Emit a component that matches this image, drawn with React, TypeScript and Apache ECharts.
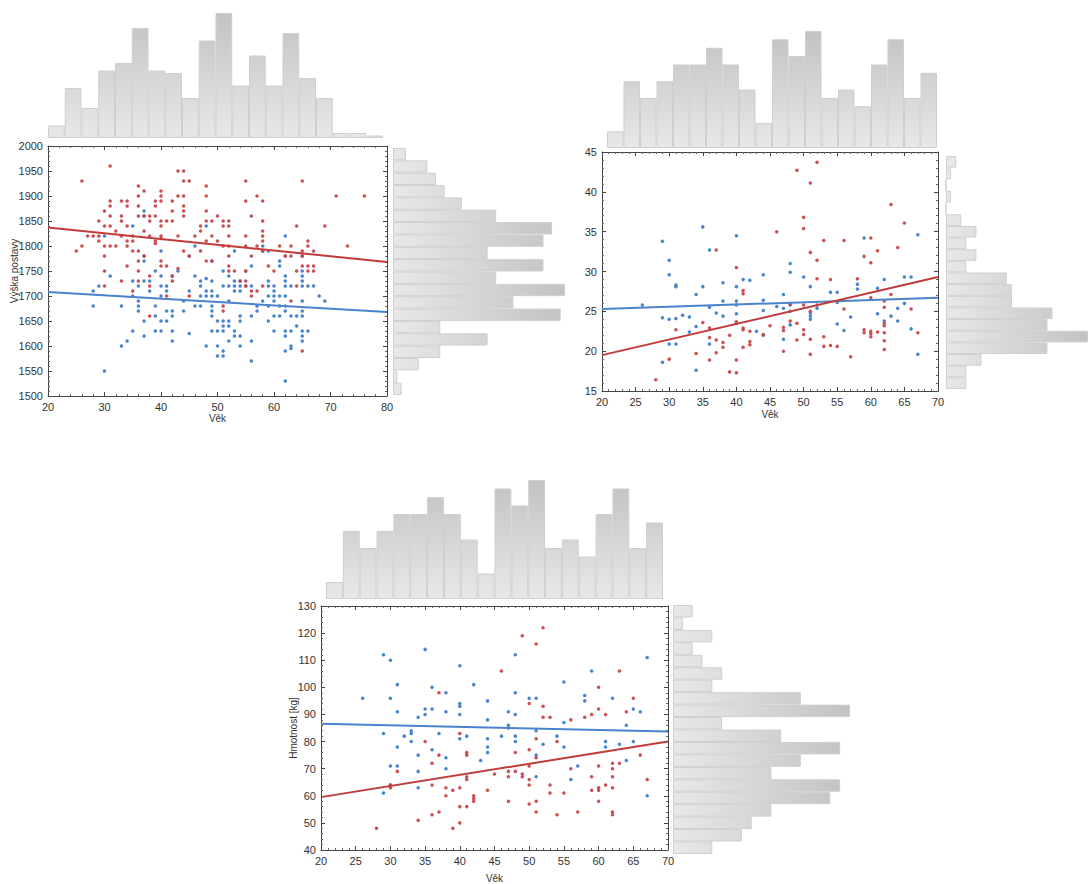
import React, { useEffect, useRef } from "react";
import * as echarts from "echarts";

// ---------- Panel 1: age vs body height ----------
const ageBinsWide = [5, 20, 12, 27, 30, 44, 27, 26, 16, 39, 50, 21, 33, 21, 42, 24, 16, 2, 2, 1];
const heightBins = [3, 8, 10, 12, 16, 24, 37, 35, 22, 35, 24, 40, 28, 39, 11, 22, 11, 6, 1, 2];

const heightRed: number[][] = [
  [25,1790],[26,1930],[26,1800],[27,1820],[28,1820],[29,1850],[29,1820],[29,1810],
  [30,1870],[30,1840],[30,1800],[30,1780],[30,1750],[30,1720],
  [31,1960],[31,1890],[31,1880],[31,1860],[31,1840],[31,1800],
  [32,1830],[32,1800],
  [33,1890],[33,1860],[33,1850],[33,1820],[33,1730],
  [34,1890],[34,1880],[34,1840],[34,1810],[34,1800],[34,1760],
  [35,1820],[35,1810],[35,1790],[35,1710],
  [36,1920],[36,1900],[36,1880],[36,1860],[36,1790],[36,1770],[36,1750],[36,1730],
  [37,1910],[37,1860],[37,1830],[37,1780],
  [38,1860],[38,1850],[38,1820],[38,1740],[38,1720],[38,1660],
  [39,1890],[39,1880],[39,1860],[39,1810],[39,1805],
  [40,1910],[40,1900],[40,1890],[40,1850],[40,1840],[40,1820],[40,1815],[40,1770],[40,1760],
  [41,1850],[41,1760],[41,1700],
  [42,1890],[42,1870],[42,1850],[42,1740],[42,1730],
  [43,1950],[43,1900],[43,1820],[43,1755],
  [44,1950],[44,1930],[44,1900],[44,1880],[44,1870],[44,1860],[44,1790],
  [45,1930],[45,1780],[45,1700],
  [46,1820],
  [47,1840],[47,1830],[47,1790],
  [48,1920],[48,1900],[48,1870],[48,1850],[48,1810],[48,1770],
  [49,1850],[49,1820],[49,1770],
  [50,1860],[50,1810],
  [51,1850],[51,1840],[51,1800],[51,1680],[51,1670],
  [52,1850],[52,1840],[52,1820],[52,1800],[52,1780],[52,1760],[52,1750],
  [53,1750],[54,1730],
  [55,1930],[55,1890],[55,1820],[55,1800],[55,1750],[55,1730],[55,1720],
  [56,1860],[56,1780],[56,1710],[56,1700],
  [57,1900],[57,1800],[57,1710],
  [58,1890],[58,1850],[58,1830],[58,1820],[58,1810],[58,1790],[58,1720],
  [59,1760],[60,1750],[61,1800],[62,1780],
  [63,1800],[63,1780],[63,1690],
  [64,1840],[64,1750],[64,1720],
  [65,1930],[65,1790],[65,1780],[65,1760],[65,1590],
  [66,1810],[66,1800],[66,1760],[66,1750],
  [67,1790],[67,1760],[67,1750],
  [69,1840],[71,1900],[73,1800],[76,1900],
];

const heightBlue: number[][] = [
  [28,1710],[28,1680],[29,1720],[30,1820],[30,1550],[31,1740],
  [33,1680],[33,1600],[34,1610],
  [35,1840],[35,1730],[35,1700],[35,1630],
  [36,1720],[36,1690],[36,1680],[36,1670],
  [37,1870],[37,1860],[37,1780],[37,1770],[37,1730],[37,1650],[37,1620],
  [38,1730],[38,1710],
  [39,1750],[39,1680],[39,1660],[39,1630],
  [40,1790],[40,1740],[40,1720],[40,1700],[40,1650],[40,1630],
  [41,1720],[41,1710],[41,1670],[41,1650],
  [42,1740],[42,1670],[42,1660],[42,1630],[42,1610],
  [43,1750],[44,1690],[44,1670],
  [45,1780],[45,1710],[45,1625],
  [46,1800],[46,1740],[46,1680],
  [47,1730],[47,1720],[47,1700],[47,1680],
  [48,1840],[48,1735],[48,1710],[48,1700],[48,1600],
  [49,1770],[49,1730],[49,1710],[49,1700],[49,1680],[49,1670],[49,1660],[49,1630],
  [50,1700],[50,1650],[50,1630],[50,1600],[50,1580],
  [51,1750],[51,1720],[51,1650],[51,1640],[51,1630],[51,1590],[51,1580],
  [52,1740],[52,1720],[52,1690],[52,1650],[52,1640],[52,1610],
  [53,1790],[53,1730],[53,1720],[53,1710],[53,1630],[53,1620],
  [54,1730],[54,1720],[54,1710],[54,1660],[54,1650],[54,1620],[54,1600],
  [55,1750],[55,1720],
  [56,1760],[56,1720],[56,1660],[56,1610],[56,1570],
  [57,1680],[57,1670],
  [58,1800],[58,1790],[58,1690],
  [59,1790],[59,1730],[59,1720],[59,1700],[59,1680],[59,1650],
  [60,1720],[60,1710],[60,1700],[60,1690],[60,1660],[60,1630],
  [61,1770],[61,1760],[61,1700],[61,1680],[61,1660],
  [62,1820],[62,1780],[62,1740],[62,1730],[62,1720],[62,1700],[62,1680],[62,1670],[62,1630],[62,1620],[62,1590],[62,1530],
  [63,1720],[63,1660],[63,1630],[63,1600],[63,1595],
  [64,1660],[64,1640],
  [65,1780],[65,1750],[65,1740],[65,1730],[65,1720],[65,1690],[65,1670],[65,1660],[65,1630],[65,1620],[65,1610],
  [66,1720],[66,1630],[67,1720],[68,1700],[69,1690],
];

const heightRedFit = [[20, 1837], [80, 1768]];
const heightBlueFit = [[20, 1708], [80, 1668]];

// ---------- Panel 2: age vs BMI ----------
const ageBins = [2, 8, 6, 8, 10, 10, 12, 10, 7, 3, 13, 11, 14, 6, 7, 5, 10, 13, 6, 9];
const bmiBins = [2, 1, 0, 1, 0, 3, 6, 4, 6, 4, 12, 13, 13, 21, 20, 28, 20, 7, 4, 4];

const bmiBlue: number[][] = [
  [26,25.8],[29,33.8],[29,24.2],[29,18.6],[30,31.4],[30,29.6],[30,24.0],[30,20.9],
  [31,28.3],[31,28.1],[31,24.1],[31,20.9],[32,24.5],[33,24.3],[33,22.4],
  [34,27.1],[34,23.1],[34,17.6],[35,35.6],[35,28.1],[36,32.7],[36,25.5],[36,20.9],
  [37,24.8],[38,28.6],[38,26.3],[38,24.4],[40,34.5],[40,28.1],[40,26.3],[40,25.8],[40,24.7],
  [41,29.0],[42,28.9],[43,22.5],[44,29.6],[44,26.4],[44,25.1],[44,22.0],[46,25.6],
  [47,27.1],[47,25.4],[47,21.5],[48,31.0],[48,29.9],[48,25.8],[48,25.0],[48,23.3],
  [50,29.3],[51,28.1],[51,24.8],[51,24.4],[51,24.0],[52,25.4],[54,27.4],[55,27.4],
  [55,26.1],[55,23.4],[56,22.6],[57,24.3],[58,28.4],[58,27.8],[59,34.2],[61,27.9],
  [61,24.7],[62,29.0],[62,23.8],[63,24.4],[64,25.4],[64,23.8],[65,29.3],[65,26.0],
  [66,29.3],[66,22.8],[67,34.6],[67,19.6],
];

const bmiRed: number[][] = [
  [28,16.4],[30,19.0],[31,22.7],[34,19.7],[35,23.6],[36,22.9],[36,21.7],[36,18.9],
  [37,32.7],[37,21.4],[37,19.8],[38,21.1],[38,20.5],[39,22.0],[39,17.4],
  [40,30.5],[40,23.7],[40,23.5],[40,18.9],[40,17.3],[41,27.6],[41,27.2],[41,22.9],[41,22.7],[41,20.5],
  [42,22.5],[42,21.2],[42,20.8],[44,22.1],[45,23.2],[46,35.0],[47,23.0],[47,22.6],[47,20.0],
  [48,25.9],[48,23.8],[49,42.7],[49,23.5],[49,21.4],
  [50,36.8],[50,35.4],[50,25.8],[50,22.7],[50,22.1],
  [51,41.1],[51,32.4],[51,25.0],[51,21.5],[51,19.6],
  [52,43.7],[52,31.4],[52,29.1],[52,25.8],[53,33.9],[53,21.8],[53,20.6],
  [54,29.0],[54,20.7],[55,20.6],[56,33.9],[56,25.3],[57,19.3],[58,29.1],
  [59,31.9],[59,22.7],[59,22.3],[60,34.2],[60,31.1],[60,26.7],[60,22.5],[60,22.2],[60,21.8],
  [61,32.6],[61,22.4],[62,26.3],[62,25.5],[62,23.5],[62,23.2],[62,22.3],[62,21.3],[62,20.2],
  [63,38.4],[63,27.1],[64,33.0],[65,36.1],[66,25.3],[67,22.3],
];

const bmiRedFit = [[20, 19.5], [70, 29.3]];
const bmiBlueFit = [[20, 25.3], [70, 26.7]];

// ---------- Panel 3: age vs body weight ----------
const weightBins = [2, 1, 4, 2, 3, 5, 4, 13, 18, 5, 11, 17, 13, 10, 17, 16, 10, 8, 7, 4];

const weightBlue: number[][] = [
  [26,96],[29,112],[29,83],[29,61],[30,110],[30,96],[30,71],[30,64],
  [31,101],[31,91],[31,78],[31,71],[32,82],[33,84],[33,83],[33,80],
  [34,89],[34,75],[34,69],[34,63],[35,114],[35,92],[35,90],
  [36,100],[36,92],[36,77],[37,83],[38,98],[38,91],[38,74],[38,70],
  [40,108],[40,94],[40,93],[40,90],[40,81],[41,82],[42,101],[43,73],
  [44,95],[44,88],[44,81],[44,78],[44,76],[46,82],[47,91],[47,86],[47,85],
  [48,112],[48,98],[48,90],[48,82],[48,80],[50,96],[51,96],[51,84],[51,75],[51,67],
  [52,79],[54,82],[55,102],[55,87],[55,78],[56,66],[57,71],[58,97],[58,95],
  [59,106],[61,80],[61,78],[62,96],[63,79],[64,86],[64,73],[65,92],[65,80],
  [66,91],[67,111],[67,60],
];

const weightRed: number[][] = [
  [28,48],[30,64],[30,63],[31,69],[34,51],[35,80],[36,72],[36,64],[36,53],
  [37,98],[37,75],[37,54],[38,63],[38,60],[39,62],[39,48],
  [40,83],[40,63],[40,56],[40,50],[41,76],[41,75],[41,67],[41,66],[41,56],
  [42,60],[42,59],[42,58],[44,62],[45,68],[46,106],[47,69],[47,67],[47,58],
  [48,76],[48,69],[49,119],[49,68],[49,67],
  [50,94],[50,77],[50,71],[50,66],[50,64],[50,57],
  [51,116],[51,81],[51,74],[51,58],[51,54],[52,122],[52,93],[52,89],
  [53,89],[53,64],[53,61],[54,80],[54,53],[55,61],[56,88],[56,70],[57,54],
  [58,89],[59,90],[59,67],[59,62],[60,100],[60,92],[60,71],[60,63],[60,62],[60,58],
  [61,90],[61,64],[62,72],[62,70],[62,67],[62,63],[62,54],[62,53],
  [63,106],[63,72],[64,91],[65,96],[66,75],[67,66],
];

const weightRedFit = [[20, 59.5], [70, 80.0]];
const weightBlueFit = [[20, 86.6], [70, 83.7]];

// ---------- styling ----------
const RED = "#c9474a";
const BLUE = "#3f7dcc";
const RED_LINE = "#c23b3b";
const BLUE_LINE = "#4a82cc";
const FONT = "Liberation Sans, Arial, sans-serif";
const AXIS_COLOR = "#444";

type Box = { left: number; top: number; width: number; height: number };

function buildOption() {
  const grids: any[] = [];
  const xAxes: any[] = [];
  const yAxes: any[] = [];
  const series: any[] = [];

  const baseAxis = (extra: any) => ({
    type: "value",
    axisLine: { show: true, onZero: false, lineStyle: { color: AXIS_COLOR, width: 1 } },
    axisTick: { show: true, inside: true, length: 4, lineStyle: { color: AXIS_COLOR } },
    minorTick: { show: true, splitNumber: 5, length: 2, lineStyle: { color: "#666" } },
    splitLine: { show: false },
    axisLabel: {
      color: "#333", fontSize: 11, fontFamily: FONT, margin: 5,
      formatter: (v: number) => String(v),
    },
    nameTextStyle: { color: "#333", fontSize: 10, fontFamily: FONT },
    nameMoveOverlap: false,
    ...extra,
  });

  function scatterPanel(
    box: Box,
    xr: [number, number, number],
    yr: [number, number, number],
    xName: string,
    xGap: number,
    yName: string,
    yGap: number,
    red: number[][],
    blue: number[][],
    redFit: number[][],
    blueFit: number[][]
  ) {
    const g = grids.length;
    grids.push({ ...box, containLabel: false });
    const xi = xAxes.length;
    xAxes.push(
      baseAxis({
        gridIndex: g, min: xr[0], max: xr[1], interval: xr[2], position: "bottom",
        name: xName, nameLocation: "middle", nameGap: xGap,
      })
    );
    xAxes.push(
      baseAxis({
        gridIndex: g, min: xr[0], max: xr[1], interval: xr[2], position: "top",
        axisLabel: { show: false },
      })
    );
    const yi = yAxes.length;
    yAxes.push(
      baseAxis({
        gridIndex: g, min: yr[0], max: yr[1], interval: yr[2], position: "left",
        name: yName, nameLocation: "middle", nameGap: yGap,
      })
    );
    yAxes.push(
      baseAxis({
        gridIndex: g, min: yr[0], max: yr[1], interval: yr[2], position: "right",
        axisLabel: { show: false },
      })
    );
    const common = { xAxisIndex: xi, yAxisIndex: yi };
    series.push({
      type: "scatter", name: "modrá", data: blue, symbol: "circle", symbolSize: 3.5,
      itemStyle: { color: BLUE, opacity: 0.95 }, ...common, z: 3,
    });
    series.push({
      type: "scatter", name: "červená", data: red, symbol: "circle", symbolSize: 3.5,
      itemStyle: { color: RED, opacity: 0.95 }, ...common, z: 3,
    });
    series.push({
      type: "line", data: blueFit, showSymbol: false, symbol: "none",
      lineStyle: { color: BLUE_LINE, width: 2 }, ...common, z: 4,
    });
    series.push({
      type: "line", data: redFit, showSymbol: false, symbol: "none",
      lineStyle: { color: RED_LINE, width: 2 }, ...common, z: 4,
    });
  }

  function topHist(box: Box, counts: number[], max: number) {
    const g = grids.length;
    grids.push({ ...box });
    const xi = xAxes.length;
    xAxes.push({
      gridIndex: g, type: "category", data: counts.map((_, i) => String(i + 1)),
      show: false, boundaryGap: true,
    });
    const yi = yAxes.length;
    yAxes.push({ gridIndex: g, type: "value", min: 0, max, show: false, splitLine: { show: false } });
    series.push({
      type: "bar", data: counts, xAxisIndex: xi, yAxisIndex: yi, barCategoryGap: "0%",
      itemStyle: {
        color: new echarts.graphic.LinearGradient(
          0, box.top, 0, box.top + box.height,
          [{ offset: 0, color: "#c2c2c2" }, { offset: 1, color: "#e8e8e8" }],
          true
        ),
        borderColor: "#cfcfcf",
        borderWidth: 1,
      },
      silent: true,
    });
  }

  function rightHist(box: Box, counts: number[], max: number) {
    const g = grids.length;
    grids.push({ ...box });
    const xi = xAxes.length;
    xAxes.push({ gridIndex: g, type: "value", min: 0, max, show: false, splitLine: { show: false } });
    const yi = yAxes.length;
    yAxes.push({
      gridIndex: g, type: "category", data: counts.map((_, i) => String(i + 1)),
      show: false, inverse: true, boundaryGap: true,
    });
    series.push({
      type: "bar", data: counts, xAxisIndex: xi, yAxisIndex: yi, barCategoryGap: "0%",
      itemStyle: {
        color: new echarts.graphic.LinearGradient(
          box.left, 0, box.left + box.width, 0,
          [{ offset: 0, color: "#e8e8e8" }, { offset: 1, color: "#c2c2c2" }],
          true
        ),
        borderColor: "#cfcfcf",
        borderWidth: 1,
      },
      silent: true,
    });
  }

  // Panel 1
  scatterPanel(
    { left: 48, top: 146, width: 339, height: 250 },
    [20, 80, 10], [1500, 2000, 50], "Věk", 17, "Výška postavy", 29,
    heightRed, heightBlue, heightRedFit, heightBlueFit
  );
  topHist({ left: 48, top: 13, width: 335, height: 125 }, ageBinsWide, 50);
  rightHist({ left: 393, top: 148, width: 172, height: 247 }, heightBins, 40);

  // Panel 2
  scatterPanel(
    { left: 602, top: 152, width: 336, height: 239 },
    [20, 70, 5], [15, 45, 5], "Věk", 18, "", 30,
    bmiRed, bmiBlue, bmiRedFit, bmiBlueFit
  );
  topHist({ left: 607, top: 31, width: 330, height: 117 }, ageBins, 14);
  rightHist({ left: 946, top: 156, width: 142, height: 233 }, bmiBins, 28);

  // Panel 3
  scatterPanel(
    { left: 321, top: 606, width: 347, height: 251 },
    [20, 70, 5], [40, 130, 10], "Věk", 23, "Hmotnost [kg]", 23,
    weightRed, weightBlue, weightRedFit, weightBlueFit
  );
  topHist({ left: 326, top: 480, width: 337, height: 119 }, ageBins, 14);
  rightHist({ left: 673, top: 605, width: 177, height: 249 }, weightBins, 18);

  return {
    animation: false,
    backgroundColor: "#ffffff",
    textStyle: { fontFamily: FONT },
    grid: grids,
    xAxis: xAxes,
    yAxis: yAxes,
    series,
  };
}

export default function App() {
  const ref = useRef<HTMLDivElement>(null);
  useEffect(() => {
    if (!ref.current) return;
    const chart = echarts.init(ref.current, null, { renderer: "svg" });
    chart.setOption(buildOption() as any);
    return () => chart.dispose();
  }, []);
  return (
    <div
      ref={ref}
      style={{ position: "fixed", left: 0, top: 0, width: 1090, height: 884, background: "#fff" }}
    />
  );
}
